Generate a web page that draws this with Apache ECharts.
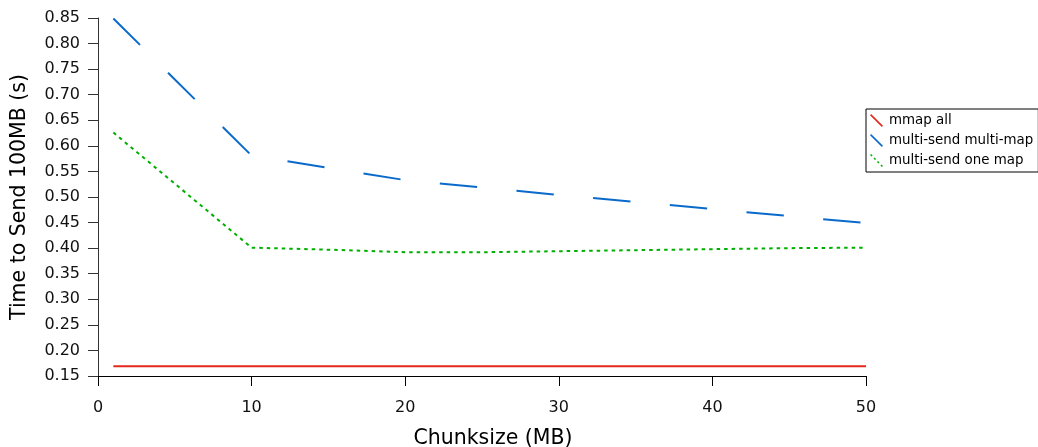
<!DOCTYPE html>
<html>
<head>
<meta charset="utf-8">
<script src="https://cdn.jsdelivr.net/npm/echarts@6/dist/echarts.min.js"></script>
<style>
html,body{margin:0;padding:0;background:#fff;}
#chart{width:1038px;height:447px;}
</style>
</head>
<body>
<div id="chart"></div>
<script>
// ---- data ----
var seriesNames = ['mmap all', 'multi-send multi-map', 'multi-send one map'];
var chunkSizes = [1, 10, 20, 30, 40, 50];
var mmapAll = [0.169, 0.169, 0.169, 0.169, 0.169, 0.169];
var multiSendMultiMap = [0.849, 0.581, 0.533, 0.504, 0.4765, 0.449];
var oneMapX = [1, 10, 15, 20, 25, 30, 35, 40, 45, 50];
var multiSendOneMap = [0.626, 0.401, 0.397, 0.392, 0.392, 0.394, 0.396, 0.398, 0.4, 0.401];
var yTicks = { min: 0.15, max: 0.85, step: 0.05 };
var xTicks = { min: 0, max: 50, step: 10 };

function pairs(xs, ys) { return xs.map(function (x, i) { return [x, ys[i]]; }); }

var solidIcon = 'path://M0,1.3 L1.3,0 L15,13.7 L13.7,15 Z';
var dotIcon = (function () {
  var p = 'path://';
  [0, 4, 8, 12].forEach(function (t) {
    p += 'M' + t + ',' + (t + 1.2) + ' L' + (t + 1.2) + ',' + t + ' L' + (t + 3) + ',' + (t + 1.8) +
      ' L' + (t + 1.8) + ',' + (t + 3) + ' Z ';
  });
  return p + 'M14.9,15 L15,14.9 L15,15 Z';
})();

var colors = ['#e3281c', '#0a6acb', '#00b000'];
var font = 'DejaVu Sans';

var chart = echarts.init(document.getElementById('chart'), null, { renderer: 'canvas' });
chart.setOption({
  animation: false,
  backgroundColor: '#fff',
  textStyle: { fontFamily: font },
  grid: { left: 98, right: 172, top: 18, bottom: 71, containLabel: false, outerBoundsMode: 'none' },
  legend: {
    orient: 'vertical',
    left: 866, top: 109,
    padding: [5, 5, 5, 4],
    itemGap: 7,
    itemWidth: 15, itemHeight: 13,
    itemTextGap: 3,
    borderColor: '#000', borderWidth: 1, borderRadius: 0,
    backgroundColor: '#fff',
    itemStyle: { borderWidth: 0 },
    textStyle: { fontFamily: font, fontSize: 13.4, color: '#000' },
    data: [
      { name: seriesNames[0], icon: solidIcon },
      { name: seriesNames[1], icon: solidIcon },
      { name: seriesNames[2], icon: dotIcon }
    ]
  },
  xAxis: {
    type: 'value',
    min: xTicks.min, max: xTicks.max, interval: xTicks.step,
    name: 'Chunksize (MB)',
    nameLocation: 'middle',
    nameGap: 52,
    nameTextStyle: { fontFamily: font, fontSize: 20.5, color: '#000', padding: [0, 0, 0, 22] },
    axisLine: { show: true, onZero: false, lineStyle: { color: '#000', width: 1 } },
    axisTick: { show: true, inside: false, length: 10, lineStyle: { color: '#000' } },
    axisLabel: { fontFamily: font, fontSize: 16, color: '#111', margin: 24 },
    splitLine: { show: false }
  },
  yAxis: {
    type: 'value',
    min: yTicks.min, max: yTicks.max, interval: yTicks.step,
    name: 'Time to Send 100MB (s)',
    nameLocation: 'middle',
    nameGap: 68,
    nameTextStyle: { fontFamily: font, fontSize: 20.5, color: '#000' },
    axisLine: { show: true, onZero: false, lineStyle: { color: '#333', width: 1 } },
    axisTick: { show: true, inside: false, length: 10, lineStyle: { color: '#333' } },
    axisLabel: { fontFamily: font, fontSize: 16, color: '#111', margin: 18,
      formatter: function (v) { return v.toFixed(2); } },
    splitLine: { show: false }
  },
  series: [
    {
      name: seriesNames[0], type: 'line', data: pairs(chunkSizes, mmapAll),
      showSymbol: false, symbol: 'none', color: colors[0],
      itemStyle: { color: colors[0], borderWidth: 0 },
      lineStyle: { color: colors[0], width: 2, type: 'solid' }
    },
    {
      name: seriesNames[1], type: 'line', data: pairs(chunkSizes, multiSendMultiMap),
      showSymbol: false, symbol: 'none', color: colors[1],
      itemStyle: { color: colors[1], borderWidth: 0 },
      lineStyle: { color: colors[1], width: 2, type: [37.5, 39.5] }
    },
    {
      name: seriesNames[2], type: 'line', data: pairs(oneMapX, multiSendOneMap),
      showSymbol: false, symbol: 'none', color: colors[2],
      itemStyle: { color: colors[2], borderWidth: 0 },
      lineStyle: { color: colors[2], width: 2, type: [3.5, 4] }
    }
  ]
});
</script>
</body>
</html>
